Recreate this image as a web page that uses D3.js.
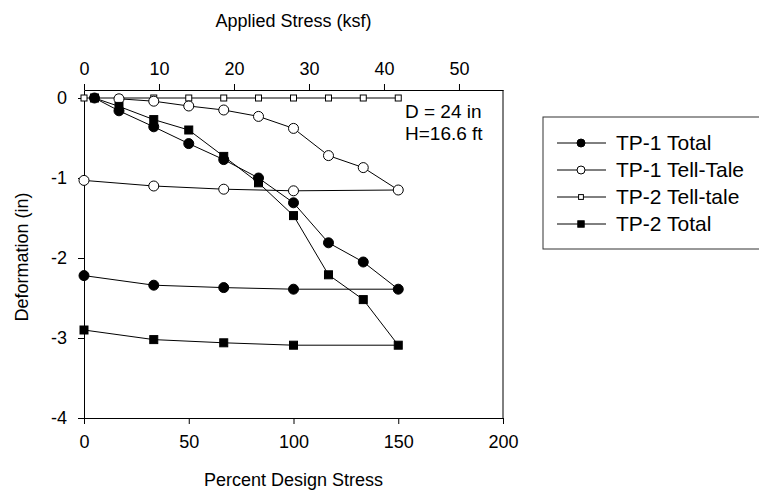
<!DOCTYPE html>
<html lang="en">
<head>
    <meta charset="UTF-8">
    <title>Deformation vs Design Stress</title>
    <script src="https://cdn.jsdelivr.net/npm/d3@7/dist/d3.min.js"></script>
    <style>
        body{
            margin: 0;
            background: white;
        }
        svg text{
            font-family: "Liberation Sans", Arial, sans-serif;
            fill: black;
        }
        .axis path, .axis line{
            stroke: black;
            stroke-width: 1;
        }
        .axis text{
            font-size: 18px;
        }
    </style>
</head>
<body>
<svg id="main" width="759" height="494"></svg>
<script>
    // percent design stress and deformation (in)
    const tp1TotalX = [5, 16.7, 33.3, 50, 66.7, 83.3, 100, 116.7, 133.3, 150, 100, 66.7, 33.3, 0]
    const tp1TotalY = [0, -0.16, -0.36, -0.57, -0.77, -1.0, -1.31, -1.81, -2.05, -2.39, -2.39, -2.37, -2.34, -2.22]

    const tp1TellX = [16.7, 33.3, 50, 66.7, 83.3, 100, 116.7, 133.3, 150, 100, 66.7, 33.3, 0]
    const tp1TellY = [-0.01, -0.04, -0.10, -0.15, -0.23, -0.38, -0.72, -0.87, -1.15, -1.16, -1.14, -1.10, -1.03]

    const tp2TellX = [0, 16.7, 33.3, 50, 66.7, 83.3, 100, 116.7, 133.3, 150]
    const tp2TellY = [0, 0, 0, 0, 0, 0, 0, 0, 0, 0]

    const tp2TotalX = [5, 16.7, 33.3, 50, 66.7, 83.3, 100, 116.7, 133.3, 150, 100, 66.7, 33.3, 0]
    const tp2TotalY = [0, -0.105, -0.27, -0.40, -0.73, -1.06, -1.47, -2.21, -2.52, -3.09, -3.09, -3.06, -3.02, -2.90]

    const seriesNames = ['TP-1 Total', 'TP-1 Tell-Tale', 'TP-2 Tell-tale', 'TP-2 Total']
    const percentTicks = [0, 50, 100, 150, 200]
    const ksfTicks = [0, 10, 20, 30, 40, 50]
    const deformTicks = [-4, -3, -2, -1, 0]

    const plot = {left: 84, right: 503, top: 90, bottom: 418}

    const svg = d3.select('svg#main')

    const xScale = d3.scaleLinear().domain([0, 200]).range([plot.left, plot.right])
    // top axis: applied stress, 10 ksf = 75px
    const ksfScale = d3.scaleLinear().domain([0, 55.87]).range([plot.left, plot.right])
    const yScale = d3.scaleLinear().domain([-4, 0.1]).range([plot.bottom, plot.top])

    // axes
    svg.append('g').attr('class', 'axis')
        .attr('transform', `translate(0,${plot.bottom})`)
        .call(d3.axisBottom(xScale).tickValues(percentTicks).tickSizeOuter(0).tickPadding(11))
    svg.append('g').attr('class', 'axis')
        .attr('transform', `translate(0,${plot.top})`)
        .call(d3.axisTop(ksfScale).tickValues(ksfTicks).tickSizeOuter(0).tickPadding(9))
    svg.append('g').attr('class', 'axis')
        .attr('transform', `translate(${plot.left},0)`)
        .call(d3.axisLeft(yScale).tickValues(deformTicks).tickFormat(d => String(d))
            .tickSizeOuter(0).tickPadding(11))
    svg.append('line')
        .attr('x1', plot.right).attr('x2', plot.right)
        .attr('y1', plot.top).attr('y2', plot.bottom)
        .attr('stroke', 'black')

    // axis titles
    svg.append('text').text('Applied Stress (ksf)')
        .attr('x', (plot.left + plot.right) / 2).attr('y', 27)
        .attr('text-anchor', 'middle').attr('font-size', 18)
    svg.append('text').text('Percent Design Stress')
        .attr('x', (plot.left + plot.right) / 2).attr('y', 486)
        .attr('text-anchor', 'middle').attr('font-size', 18)
    svg.append('text').text('Deformation (in)')
        .attr('transform', `translate(28,257) rotate(-90)`)
        .attr('text-anchor', 'middle').attr('font-size', 18)

    // annotation
    svg.append('text').text('D = 24 in').attr('x', 405).attr('y', 118).attr('font-size', 19)
    svg.append('text').text('H=16.6 ft').attr('x', 405).attr('y', 140).attr('font-size', 19)

    // marker drawers
    const markers = {
        'TP-1 Total': (g, r) => g.append('circle').attr('r', r).attr('fill', 'black').attr('stroke', 'black'),
        'TP-1 Tell-Tale': (g, r) => g.append('circle').attr('r', r).attr('fill', 'white').attr('stroke', 'black'),
        'TP-2 Tell-tale': (g, r) => g.append('rect').attr('x', -r * 0.6).attr('y', -r * 0.6)
            .attr('width', r * 1.2).attr('height', r * 1.2).attr('fill', 'white').attr('stroke', 'black'),
        'TP-2 Total': (g, r) => g.append('rect').attr('x', -r * 0.8).attr('y', -r * 0.8)
            .attr('width', r * 1.6).attr('height', r * 1.6).attr('fill', 'black').attr('stroke', 'black')
    }

    const series = [
        {name: 'TP-2 Tell-tale', x: tp2TellX, y: tp2TellY},
        {name: 'TP-1 Tell-Tale', x: tp1TellX, y: tp1TellY},
        {name: 'TP-2 Total', x: tp2TotalX, y: tp2TotalY},
        {name: 'TP-1 Total', x: tp1TotalX, y: tp1TotalY}
    ]

    const line = d3.line().x(d => xScale(d[0])).y(d => yScale(d[1]))

    series.forEach(s => {
        const pts = s.x.map((v, i) => [v, s.y[i]])
        const g = svg.append('g')
        g.append('path').attr('d', line(pts))
            .attr('fill', 'none').attr('stroke', 'black').attr('stroke-width', 1)
        pts.forEach(p => {
            const m = g.append('g').attr('transform', `translate(${xScale(p[0])},${yScale(p[1])})`)
            markers[s.name](m, 5)
        })
    })

    // legend
    const legend = svg.append('g')
    legend.append('rect')
        .attr('x', 543).attr('y', 117).attr('width', 222).attr('height', 132)
        .attr('fill', 'none').attr('stroke', '#333')
    const items = legend.selectAll('.legends')
        .data(seriesNames)
        .enter().append('g')
        .attr('class', 'legends')
        .attr('transform', (_, i) => `translate(0,${143 + i * 27})`)
    items.append('line')
        .attr('x1', 557).attr('x2', 606)
        .attr('stroke', 'black')
    items.each(function (d) {
        const m = d3.select(this).append('g').attr('transform', 'translate(581,0)')
        markers[d](m, 4)
    })
    items.append('text')
        .text(d => d)
        .attr('x', 616).attr('dy', '0.35em')
        .attr('font-size', 21)
</script>
</body>
</html>
